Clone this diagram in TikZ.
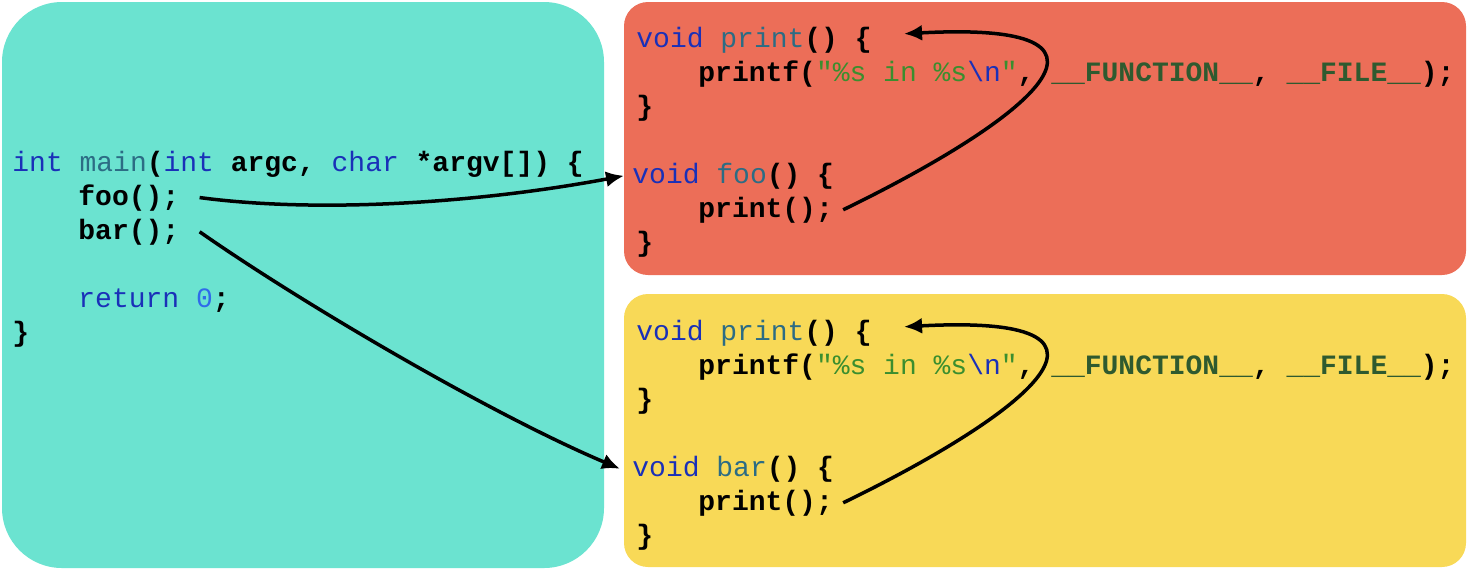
\documentclass[tikz,border=0pt]{standalone}
\usepackage{fontspec}
\setmonofont{Liberation Mono}
\usetikzlibrary{arrows.meta}

\definecolor{boxteal}{HTML}{6BE3D0}
\definecolor{boxred}{HTML}{EC6E58}
\definecolor{boxyellow}{HTML}{F8D957}
\definecolor{kwblue}{HTML}{1A30B8}
\definecolor{fnteal}{HTML}{2C6C84}
\definecolor{strgreen}{HTML}{3B8E2E}
\definecolor{macgreen}{HTML}{2F5A2F}
\definecolor{numblue}{HTML}{2F6BEA}

\newcommand{\kw}[1]{\textcolor{kwblue}{\mdseries #1}}
\newcommand{\fn}[1]{\textcolor{fnteal}{\mdseries #1}}
\newcommand{\str}[1]{\textcolor{strgreen}{\mdseries #1}}
\newcommand{\mac}[1]{\textcolor{macgreen}{#1}}
\newcommand{\num}[1]{\textcolor{numblue}{\mdseries #1}}

\begin{document}
\begin{tikzpicture}[x=0.5pt,y=-0.5pt,
    every node/.style={inner sep=0pt,anchor=base west,font=\ttfamily\bfseries\fontsize{14}{17}\selectfont},
    call/.style={line width=1.75pt,-{Latex[length=9pt,width=8pt]}}]
    \useasboundingbox (0,0) rectangle (1468,570);
    % los tres bloques de codigo
    \fill[boxteal,rounded corners=30pt] (2,2) rectangle (604,568);
    \fill[boxred,rounded corners=12pt] (624,2) rectangle (1466,275);
    \fill[boxyellow,rounded corners=12pt] (624,294) rectangle (1466,567);

    \node (main) at (12,171) {\kw{int} \fn{main}(\kw{int} argc, \kw{char} *argv[]) \{};
    \node (callfoo) at (78,205) {foo();};
    \node (callbar) at (78,239) {bar();};
    \node (ret) at (78,307) {\kw{return} \num{0};};
    \node (mainend) at (12,341) {\}};

    \node (rprint) at (636,47) {\kw{void} \fn{print}() \{};
    \node (rprintf) at (698,81) {printf(\str{"\%s in \%s}\kw{\textbackslash n}\str{"}, \mac{\_\_FUNCTION\_\_}, \mac{\_\_FILE\_\_});};
    \node (rprintend) at (636,115) {\}};
    \node (rfoo) at (632,183) {\kw{void} \fn{foo}() \{};
    \node (rcall) at (698,217) {print();};
    \node (rfooend) at (636,251) {\}};

    \node (yprint) at (636,340) {\kw{void} \fn{print}() \{};
    \node (yprintf) at (698,374) {printf(\str{"\%s in \%s}\kw{\textbackslash n}\str{"}, \mac{\_\_FUNCTION\_\_}, \mac{\_\_FILE\_\_});};
    \node (yprintend) at (636,408) {\}};
    \node (ybar) at (632,476) {\kw{void} \fn{bar}() \{};
    \node (ycall) at (698,510) {print();};
    \node (ybarend) at (636,544) {\}};

    \draw[call] ([xshift=10pt]callfoo.east) .. controls +(120,16) and +(-144,27) .. ([xshift=-4pt]rfoo.west);
    \draw[call] ([xshift=10pt]callbar.east) .. controls +(100,70) and +(-130,-55) .. ([xshift=-6pt]ybar.west);
    \draw[call] ([xshift=5pt]rcall.east) .. controls +(165,-80) and +(262,-14) .. ([xshift=16pt,yshift=3pt]rprint.east);
    \draw[call] ([xshift=5pt]ycall.east) .. controls +(165,-80) and +(262,-14) .. ([xshift=16pt,yshift=3pt]yprint.east);
\end{tikzpicture}
\end{document}
